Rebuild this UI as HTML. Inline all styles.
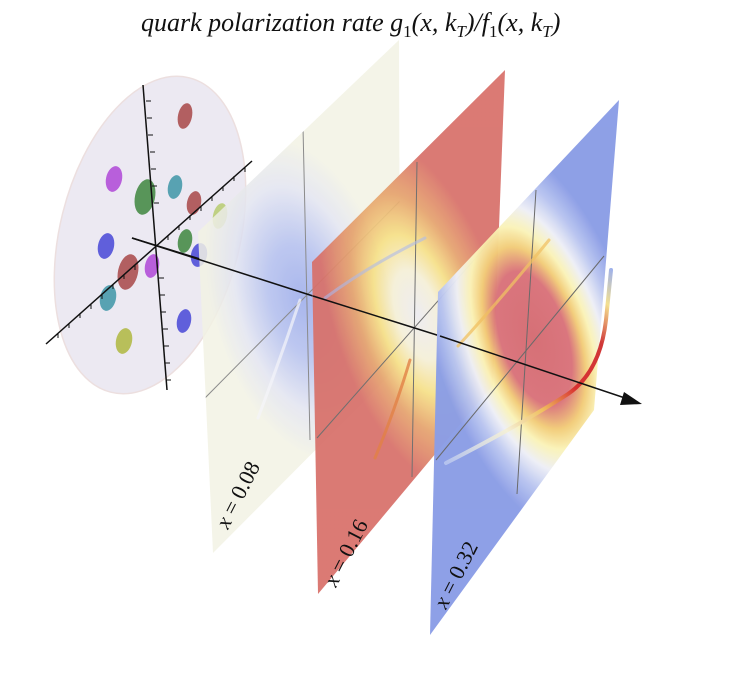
<!DOCTYPE html>
<html><head><meta charset="utf-8"><style>
html,body{margin:0;padding:0;background:#fff;}
svg{display:block;}
</style></head><body>
<svg width="737" height="679" viewBox="0 0 737 679" xmlns="http://www.w3.org/2000/svg">
<defs>
<clipPath id="c1"><polygon points="198,232 399,40 400,365 213,553"/></clipPath>
<clipPath id="c2"><polygon points="312,262 505,70 493,385 318,594"/></clipPath>
<clipPath id="c3"><polygon points="438,292 619,100 594,410 430,635"/></clipPath>
<radialGradient id="g1" cx="0" cy="0" r="1" gradientUnits="userSpaceOnUse" gradientTransform="translate(302,300) rotate(-15) scale(90,165)">
<stop offset="0" stop-color="#9aaaea"/><stop offset="0.35" stop-color="#b3bfee"/><stop offset="0.7" stop-color="#e2e4f0"/><stop offset="1" stop-color="#f2f2e4"/>
</radialGradient>
<radialGradient id="g2" cx="0" cy="0" r="1" gradientUnits="userSpaceOnUse" gradientTransform="translate(418,315) rotate(-18) scale(85,185)">
<stop offset="0" stop-color="#ecebf0"/><stop offset="0.25" stop-color="#f5efd8"/><stop offset="0.45" stop-color="#f6e088"/><stop offset="0.68" stop-color="#e6a46e"/><stop offset="1" stop-color="#d8706a"/>
</radialGradient>
<radialGradient id="g3" cx="0" cy="0" r="1" gradientUnits="userSpaceOnUse" gradientTransform="translate(534,338) rotate(-18) scale(100,210)">
<stop offset="0" stop-color="#d56c72"/><stop offset="0.33" stop-color="#d9727a"/><stop offset="0.45" stop-color="#f2cc78"/><stop offset="0.55" stop-color="#faf3b8"/><stop offset="0.67" stop-color="#eeeff6"/><stop offset="0.82" stop-color="#b8c4f0"/><stop offset="1" stop-color="#8b9de6"/>
</radialGradient>
<linearGradient id="l3" gradientUnits="userSpaceOnUse" x1="446" y1="463" x2="612" y2="268">
<stop offset="0" stop-color="#b4c2ee"/><stop offset="0.25" stop-color="#f4f0d8"/><stop offset="0.4" stop-color="#f0c060"/><stop offset="0.55" stop-color="#d83030"/><stop offset="0.75" stop-color="#d03838"/><stop offset="0.88" stop-color="#f4e090"/><stop offset="1" stop-color="#9cb0ee"/>
</linearGradient>
</defs>

<ellipse cx="150" cy="235" rx="90" ry="162" transform="rotate(14 150 235)" fill="#ebe8f2" stroke="#ecdede" stroke-width="1.5" opacity="0.95"/>
<g opacity="0.85">
<ellipse cx="185" cy="116" rx="7" ry="13" transform="rotate(12 185 116)" fill="#a84848"/>
<ellipse cx="114" cy="179" rx="8" ry="13" transform="rotate(12 114 179)" fill="#b048d8"/>
<ellipse cx="145" cy="197" rx="10" ry="18" transform="rotate(12 145 197)" fill="#3f873f"/>
<ellipse cx="175" cy="187" rx="7" ry="12" transform="rotate(12 175 187)" fill="#3f96a8"/>
<ellipse cx="194" cy="203" rx="7" ry="12" transform="rotate(12 194 203)" fill="#a84848"/>
<ellipse cx="220" cy="216" rx="7" ry="13" transform="rotate(12 220 216)" fill="#b8cc70"/>
<ellipse cx="106" cy="246" rx="8" ry="13" transform="rotate(12 106 246)" fill="#4848d8"/>
<ellipse cx="185" cy="241" rx="7" ry="12" transform="rotate(12 185 241)" fill="#3f873f"/>
<ellipse cx="199" cy="255" rx="8" ry="12" transform="rotate(12 199 255)" fill="#4848d8"/>
<ellipse cx="128" cy="272" rx="10" ry="18" transform="rotate(12 128 272)" fill="#a84848"/>
<ellipse cx="152" cy="266" rx="7" ry="12" transform="rotate(12 152 266)" fill="#b048d8"/>
<ellipse cx="108" cy="298" rx="8" ry="13" transform="rotate(12 108 298)" fill="#3f96a8"/>
<ellipse cx="184" cy="321" rx="7" ry="12" transform="rotate(12 184 321)" fill="#4848d8"/>
<ellipse cx="124" cy="341" rx="8" ry="13" transform="rotate(12 124 341)" fill="#b0b840"/>
</g>
<g stroke="#111" stroke-width="1.5" fill="none">
<line x1="143" y1="85" x2="167" y2="390"/>
<line x1="46" y1="344" x2="252" y2="161"/>
<line x1="132" y1="238" x2="200" y2="259"/>
</g>
<g stroke="#111" stroke-width="1">
<path d="M146,101h5 M147,118h5 M148,135h5 M150,152h5 M151,169h5 M152,186h5 M154,203h5 M159,278h5 M160,295h5 M161,312h5 M163,329h5 M164,346h5 M165,363h5 M166,380h5"/>
<path d="M58,333v5 M69,323v5 M80,313v5 M91,304v5 M102,294v5 M113,284v5 M124,274v5 M135,265v5 M168,235v5 M179,225v5 M190,215v5 M201,206v5 M212,196v5 M223,186v5 M234,176v5 M245,167v5"/>
</g>

<g clip-path="url(#c1)" opacity="0.85">
<rect x="190" y="30" width="220" height="530" fill="url(#g1)"/>
<line x1="303" y1="127" x2="310" y2="440" stroke="#777" stroke-width="1"/>
<line x1="203" y1="400" x2="400" y2="201" stroke="#777" stroke-width="1"/>
<path d="M258,418 Q280,360 300,300" stroke="#f4f4fa" stroke-width="3" fill="none" stroke-linecap="round" opacity="0.7"/>
</g>
<line x1="132" y1="238" x2="313" y2="296" stroke="#111" stroke-width="1.5"/>

<g clip-path="url(#c2)" opacity="0.93">
<rect x="300" y="60" width="215" height="540" fill="url(#g2)"/>
<line x1="417" y1="162" x2="412" y2="477" stroke="#666" stroke-width="1"/>
<line x1="317" y1="438" x2="497" y2="234" stroke="#666" stroke-width="1"/>
<path d="M375,458 Q395,410 410,360" stroke="#e07838" stroke-width="3" fill="none" stroke-linecap="round" opacity="0.8"/>
<path d="M325,298 Q370,265 425,238" stroke="#a8b6ea" stroke-width="3" fill="none" stroke-linecap="round" opacity="0.6"/>
</g>
<line x1="313" y1="296" x2="440" y2="336" stroke="#111" stroke-width="1.5"/>

<g clip-path="url(#c3)" opacity="0.97">
<rect x="425" y="90" width="200" height="550" fill="url(#g3)"/>
<line x1="536" y1="190" x2="517" y2="494" stroke="#666" stroke-width="1"/>
<line x1="436" y1="460" x2="604" y2="256" stroke="#666" stroke-width="1"/>
<path d="M458,346 Q500,300 549,240" stroke="#f0c060" stroke-width="3" fill="none" stroke-linecap="round" opacity="0.75"/>
</g>
<path d="M446,463 Q520,425 568,394 Q600,372 606,320 L611,270" stroke="url(#l3)" stroke-width="4" fill="none" stroke-linecap="round"/>
<line x1="440" y1="336" x2="625" y2="398" stroke="#111" stroke-width="1.5"/>
<polygon points="642,404 620,405 624,392" fill="#111"/>

<g font-family="'Liberation Serif', serif" font-size="22" fill="#111">
<text transform="translate(228,530) rotate(-63)"><tspan font-style="italic">x</tspan> = 0.08</text>
<text transform="translate(336,588) rotate(-63)"><tspan font-style="italic">x</tspan> = 0.16</text>
<text transform="translate(446,610) rotate(-63)"><tspan font-style="italic">x</tspan> = 0.32</text>
</g>
<text x="141" y="31" font-family="'Liberation Serif', serif" font-size="26" font-style="italic" fill="#111">quark polarization rate g<tspan font-size="17" dy="6" font-style="normal">1</tspan><tspan dy="-6">(x, k</tspan><tspan font-size="17" dy="6">T</tspan><tspan dy="-6">)/f</tspan><tspan font-size="17" dy="6" font-style="normal">1</tspan><tspan dy="-6">(x, k</tspan><tspan font-size="17" dy="6">T</tspan><tspan dy="-6">)</tspan></text>
</svg>
</body></html>
